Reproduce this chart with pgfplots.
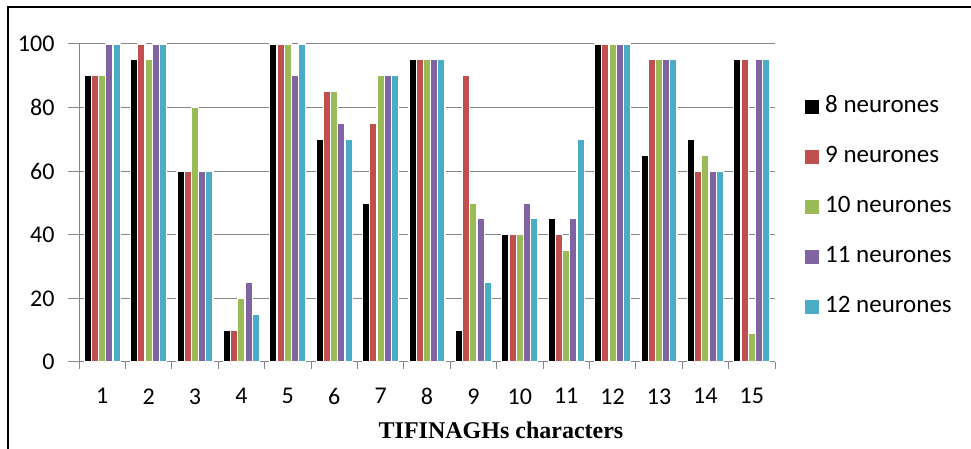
\documentclass[border=0pt]{standalone}
\usepackage{pgfplots}
\pgfplotsset{compat=1.18}
\usepackage{fontspec}
\setmainfont{Carlito}
\newfontfamily\timesfont{Liberation Serif}
\definecolor{c1}{HTML}{000000}
\definecolor{c2}{HTML}{C0504D}
\definecolor{c3}{HTML}{9BBB59}
\definecolor{c4}{HTML}{8064A2}
\definecolor{c5}{HTML}{4BACC6}
\definecolor{gridc}{HTML}{868686}
\begin{document}
\begin{tikzpicture}
\useasboundingbox (0pt,0pt) rectangle (971pt,449pt);
\draw[black, line width=1.3pt] (8pt,0pt) -- (8pt,442pt) -- (971pt,442pt);
\begin{axis}[
  at={(79pt,87pt)}, anchor=south west,
  scale only axis, width=696pt, height=318pt,
  xmin=0.5, xmax=15.5, ymin=0, ymax=100,
  ybar=0pt, bar width=7.2pt,
  axis lines=left, axis line style={-, gridc, line width=1pt},
  xtick={1,...,15},
  minor xtick={0.5,1.5,...,15.5},
  major x tick style={draw=none},
  minor x tick style={gridc, line width=1pt},
  minor tick length=7pt,
  ytick={0,20,...,100},
  major tick length=11pt,
  tick align=outside,
  ytick style={gridc, line width=1pt},
  ymajorgrids, grid style={gridc, line width=1pt},
  /pgf/number format/assume math mode=true,
  tick label style={font=\fontsize{24}{28}\selectfont},
  xticklabel style={yshift=-12pt},
  yticklabel style={xshift=-10pt},
  legend style={at={(1,0.5)}, anchor=west, xshift=30pt, yshift=-4pt,
    draw=none, fill=none, inner sep=0pt, row sep=25pt, column sep=6pt,
    font=\fontsize{25}{30}\selectfont,
    nodes={inner sep=0pt, text height=18pt, text depth=7pt, anchor=west}},
  legend cell align=left,
  legend image code/.code={\path[#1, draw=none] (0pt,-7pt) rectangle (14pt,7pt);},
  every axis plot/.append style={draw=white, line width=1.1pt},
]
\addplot[fill=c1] coordinates {(1,90) (2,95) (3,60) (4,10) (5,100) (6,70) (7,50) (8,95) (9,10) (10,40) (11,45) (12,100) (13,65) (14,70) (15,95)};
\addplot[fill=c2] coordinates {(1,90) (2,100) (3,60) (4,10) (5,100) (6,85) (7,75) (8,95) (9,90) (10,40) (11,40) (12,100) (13,95) (14,60) (15,95)};
\addplot[fill=c3] coordinates {(1,90) (2,95) (3,80) (4,20) (5,100) (6,85) (7,90) (8,95) (9,50) (10,40) (11,35) (12,100) (13,95) (14,65) (15,9)};
\addplot[fill=c4] coordinates {(1,100) (2,100) (3,60) (4,25) (5,90) (6,75) (7,90) (8,95) (9,45) (10,50) (11,45) (12,100) (13,95) (14,60) (15,95)};
\addplot[fill=c5] coordinates {(1,100) (2,100) (3,60) (4,15) (5,100) (6,70) (7,90) (8,95) (9,25) (10,45) (11,70) (12,100) (13,95) (14,60) (15,95)};
\legend{8 neurones, 9 neurones, 10 neurones, 11 neurones, 12 neurones}
\end{axis}
\node[font={\timesfont\bfseries\fontsize{24}{28}\selectfont}, inner sep=0pt] at (501pt,19pt) {TIFINAGHs characters};
\end{tikzpicture}
\end{document}
